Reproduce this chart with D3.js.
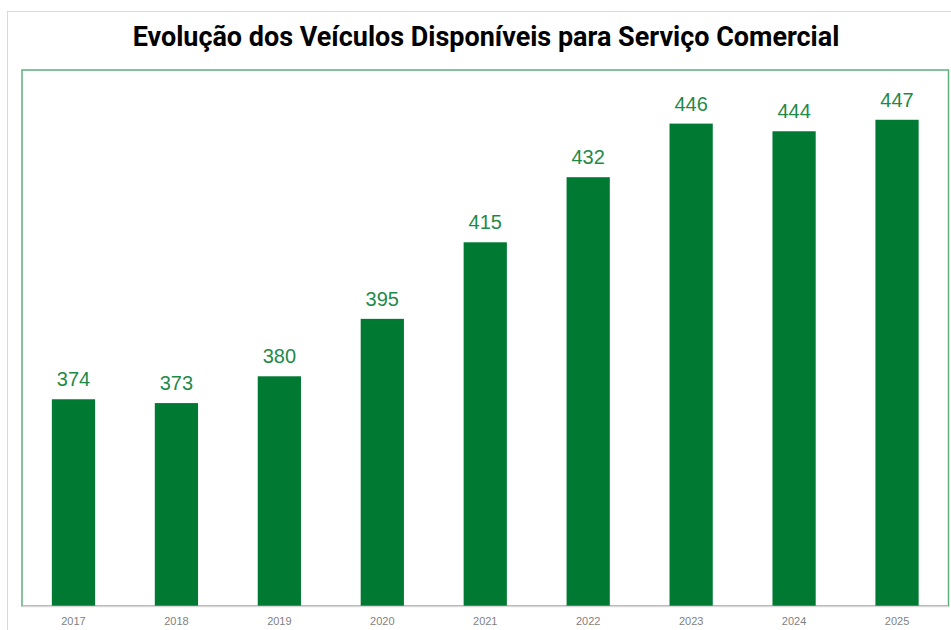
<!doctype html>
<html>
<head>
  <meta charset="utf-8">
  <title>Evolução dos Veículos</title>
  <style>
    html, body { margin: 0; padding: 0; background: #fff; }
    svg { display: block; }
  </style>
</head>
<body>
  <script src="https://d3js.org/d3.v7.min.js"></script>
  <script>
    // data
    const years = ["2017", "2018", "2019", "2020", "2021", "2022", "2023", "2024", "2025"];
    const vehicles = [374, 373, 380, 395, 415, 432, 446, 444, 447];
    const yDomain = [320, 460];

    const width = 951, height = 630;
    const plot = { left: 22, right: 948.5, top: 70, bottom: 606 };

    const svg = d3.select("body").append("svg")
        .attr("width", width)
        .attr("height", height);

    // outer chart frame (light grey)
    svg.append("rect")
        .attr("x", 7.5)
        .attr("y", 11.5)
        .attr("width", 1000)
        .attr("height", 700)
        .style("fill", "none")
        .style("stroke", "#d9d9d9")
        .style("stroke-width", 1);

    // title
    const title = svg.append("text")
        .attr("x", 486)
        .attr("y", 46)
        .attr("text-anchor", "middle")
        .style("font-family", "Roboto, 'Liberation Sans', sans-serif")
        .style("font-weight", "700")
        .style("font-size", "22px")
        .style("fill", "#000")
        .text("Evolução dos Veículos Disponíveis para Serviço Comercial");
    // fit to the width used in the original
    const tw = title.node().getComputedTextLength();
    title.style("font-size", (22 * 707 / tw).toFixed(2) + "px");

    // plot area frame (green)
    svg.append("rect")
        .attr("x", plot.left)
        .attr("y", plot.top)
        .attr("width", plot.right - plot.left)
        .attr("height", plot.bottom - plot.top)
        .style("fill", "none")
        .style("stroke", "#5fae7d")
        .style("stroke-width", 1.5);

    const x = d3.scaleBand()
        .domain(years)
        .range([plot.left, plot.right])
        .paddingInner(0.58)
        .paddingOuter(0.29);

    const y = d3.scaleLinear()
        .domain(yDomain)
        .range([plot.bottom, plot.top]);

    // bars
    svg.append("g").selectAll("rect")
        .data(years)
        .join("rect")
        .attr("x", d => x(d))
        .attr("y", (d, i) => y(vehicles[i]))
        .attr("width", x.bandwidth())
        .attr("height", (d, i) => y(yDomain[0]) - y(vehicles[i]))
        .style("fill", "#007a33");

    // value labels
    svg.append("g").selectAll("text")
        .data(years)
        .join("text")
        .attr("x", d => x(d) + x.bandwidth() / 2)
        .attr("y", (d, i) => y(vehicles[i]) - 13)
        .attr("text-anchor", "middle")
        .style("font-family", "'Liberation Sans', Arial, sans-serif")
        .style("font-size", "20px")
        .style("fill", "#1f8a48")
        .text((d, i) => vehicles[i]);

    // x axis
    const xAxis = svg.append("g")
        .attr("transform", `translate(0,${plot.bottom})`)
        .call(d3.axisBottom(x).tickSize(0).tickPadding(11));
    xAxis.select(".domain")
        .attr("d", `M${plot.left},0.5H${plot.right}`)
        .style("stroke", "#d9d9d9")
        .style("stroke-width", 1.5);
    xAxis.selectAll("text")
        .style("font-family", "'Liberation Sans', Arial, sans-serif")
        .style("font-size", "11px")
        .style("fill", "#7f7f7f");
  </script>
</body>
</html>
